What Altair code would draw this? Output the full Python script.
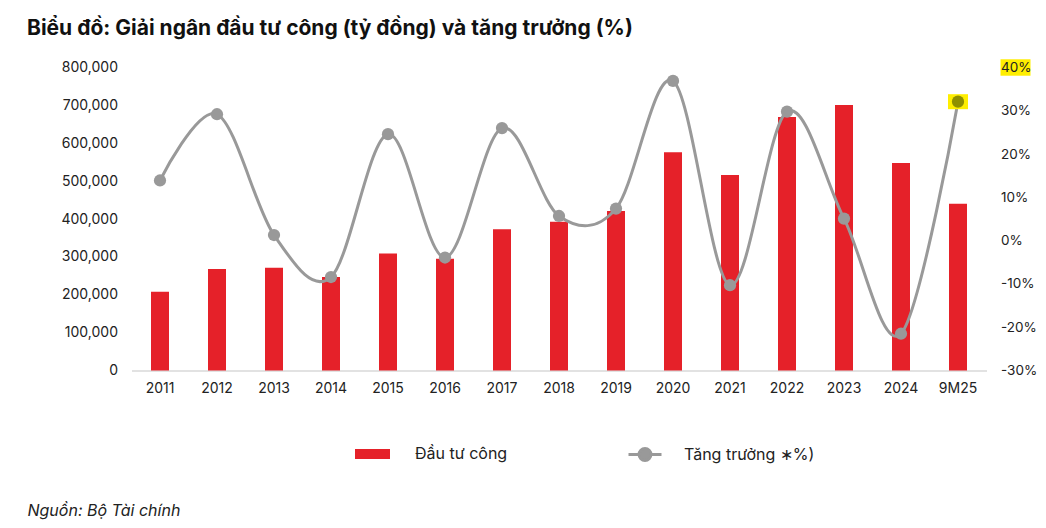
import altair as alt
import pandas as pd

years = ["2011", "2012", "2013", "2014", "2015", "2016", "2017", "2018",
         "2019", "2020", "2021", "2022", "2023", "2024", "9M25"]
invest = [208000, 268000, 271000, 247000, 309000, 295000, 373000, 393000,
          421000, 576000, 516000, 669000, 701000, 548000, 440000]
growth = [13.9, 29.2, 1.3, -8.4, 24.6, -3.9, 26.0, 5.7,
          7.4, 36.9, -10.3, 29.8, 5.1, -21.5, 32.1]
highlight = [False] * 14 + [True]

bar_label = "Đầu tư công"
line_label = "Tăng trưởng ∗%)"

df = pd.DataFrame({"year": years, "invest": invest, "growth": growth, "hl": highlight})

FONT = "Inter"
W, H = 855, 303

x = alt.X("year:N", sort=years,
          scale=alt.Scale(paddingInner=0, paddingOuter=0),
          axis=alt.Axis(title="Nguồn: Bộ Tài chính", labelAngle=0, ticks=False,
                        labelPadding=11, labelFontSize=14, labelColor="#222222",
                        domainColor="#d9d9d9", domainWidth=1.5,
                        titleX=-104.5, titleY=139.5, titleAlign="left",
                        titleAnchor="start", titleBaseline="middle",
                        titleFontStyle="italic", titleFontWeight="normal",
                        titleFontSize=16, titleColor="#222222"))

bars = alt.Chart(df).mark_bar(width=18, color="#e52129").encode(
    x=x,
    y=alt.Y("invest:Q", scale=alt.Scale(domain=[0, 800000], nice=False),
            axis=alt.Axis(title=None, values=list(range(0, 800001, 100000)),
                          format=",d", ticks=False, domain=False, grid=False,
                          labelPadding=14, labelFontSize=14, labelColor="#222222")),
    color=alt.Color("lbl:N", scale=alt.Scale(domain=[bar_label], range=["#e52129"]),
                    legend=alt.Legend(title=None, orient="none", legendX=223.5, legendY=369,
                                      symbolType="M-1,-0.29L1,-0.29L1,0.29L-1,0.29Z",
                                      symbolSize=1225, symbolStrokeWidth=0,
                                      labelFontSize=16, labelColor="#222222",
                                      labelOffset=25, padding=0)),
).transform_calculate(lbl=f"'{bar_label}'")

yr = alt.Y("growth:Q", scale=alt.Scale(domain=[-30, 40], nice=False),
           axis=alt.Axis(title=None, orient="right", values=list(range(-30, 41, 10)),
                         labelExpr="datum.value + '%'", ticks=False, domain=False,
                         grid=False, labelPadding=14, labelFontSize=13.5,
                         labelColor="#222222", zindex=2))

line = alt.Chart(df).mark_line(interpolate="cardinal", strokeWidth=3).encode(
    x=x, y=yr,
    stroke=alt.Stroke("lbl2:N", scale=alt.Scale(domain=[line_label], range=["#999999"]),
                      legend=alt.Legend(title=None, orient="none", legendX=495.5, legendY=369,
                                        symbolType="M-1,0L-0.36,0M0.36,0L1,0M0.36,0A0.36,0.36 0 1,1 -0.36,0A0.36,0.36 0 1,1 0.36,0Z",
                                        symbolSize=1089, symbolStrokeWidth=3,
                                        symbolFillColor="#999999",
                                        symbolStrokeColor="#999999",
                                        labelFontSize=16, labelColor="#222222",
                                        labelOffset=21, padding=0)),
).transform_calculate(lbl2=f"'{line_label}'")

hl_box = alt.Chart(df).transform_filter("datum.hl").mark_point(
    shape="M-1,-0.75L1,-0.75L1,0.75L-1,0.75Z", size=400, filled=True,
    color="#ffee00", opacity=1).encode(x=x, y=yr)

points = alt.Chart(df).mark_circle(size=150, opacity=1).encode(
    x=x, y=yr,
    color=alt.condition("datum.hl", alt.value("#8f8f00"), alt.value("#999999")))

label_hl = alt.Chart(pd.DataFrame({"a": [0]})).mark_rect(color="#ffee00").encode(
    x=alt.value(W + 14), x2=alt.value(W + 44),
    y=alt.datum(41.9), y2=alt.datum(38.1))

right = alt.layer(line, label_hl, hl_box, points)

chart = alt.layer(bars, right).resolve_scale(y="independent", color="independent").properties(
    width=W, height=H,
    title=alt.TitleParams("Biểu đồ: Giải ngân đầu tư công (tỷ đồng) và tăng trưởng (%)",
                          anchor="start", frame="group", dx=-104.5, offset=20,
                          fontSize=21, fontWeight="bold", color="#111111", font=FONT),
    autosize=alt.AutoSizeParams(type="none"),
    padding={"left": 123.5, "top": 59.5, "right": 51, "bottom": 149},
).configure(font=FONT).configure_view(stroke=None)

chart.save("out.html", embed_options={"renderer": "svg", "actions": False})
